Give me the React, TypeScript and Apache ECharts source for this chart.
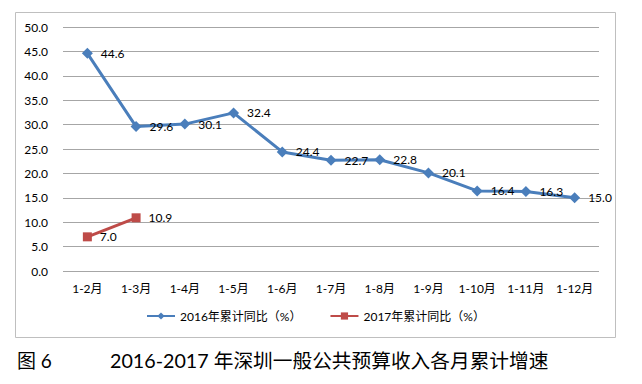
import React, { useEffect, useRef } from "react";
import * as echarts from "echarts";

const categories = ["1-2月", "1-3月", "1-4月", "1-5月", "1-6月", "1-7月", "1-8月", "1-9月", "1-10月", "1-11月", "1-12月"];
const series2016 = [44.6, 29.6, 30.1, 32.4, 24.4, 22.7, 22.8, 20.1, 16.4, 16.3, 15.0];
const series2017 = [7.0, 10.9];
const name2016 = "2016年累计同比（%）";
const name2017 = "2017年累计同比（%）";
const captionLeft = "图 6";
const captionTitle = "2016-2017 年深圳一般公共预算收入各月累计增速";

const FONT = "Lato, 'Noto Sans CJK SC', sans-serif";

export default function App() {
  const ref = useRef<HTMLDivElement>(null);
  useEffect(() => {
    if (!ref.current) return;
    const chart = echarts.init(ref.current, null, { renderer: "svg" });
    const labelCfg = {
      show: true,
      position: "right" as const,
      distance: 8,
      color: "#000",
      fontSize: 12,
      fontFamily: FONT,
      formatter: (p: any) => Number(p.value).toFixed(1),
    };
    chart.setOption({
      animation: false,
      backgroundColor: "#fff",
      textStyle: { fontFamily: FONT },
      grid: { left: 63, right: 43, top: 27, bottom: 113, containLabel: false },
      xAxis: {
        type: "category",
        data: categories,
        boundaryGap: true,
        axisLine: { show: false },
        axisTick: { show: false },
        axisLabel: { color: "#000", fontSize: 12, margin: 11, fontFamily: FONT },
      },
      yAxis: {
        type: "value",
        min: 0,
        max: 50,
        interval: 5,
        axisLine: { show: false },
        axisTick: { show: false },
        axisLabel: { color: "#000", fontSize: 12, margin: 15, fontFamily: FONT, formatter: (v: number) => v.toFixed(1) },
        splitLine: { lineStyle: { color: "#a6a6a6", width: 1 } },
      },
      legend: {
        bottom: 57,
        left: 141,
        itemWidth: 28,
        itemHeight: 9,
        itemGap: 28,
        textStyle: { color: "#000", fontSize: 12, fontFamily: FONT },
        data: [name2016, name2017],
      },
      series: [
        {
          name: name2016,
          type: "line",
          data: series2016,
          symbol: "diamond",
          symbolSize: 11,
          lineStyle: { color: "#4a7ebb", width: 3 },
          itemStyle: { color: "#4a7ebb" },
          label: labelCfg,
        },
        {
          name: name2017,
          type: "line",
          data: series2017,
          symbol: "rect",
          symbolSize: 9,
          lineStyle: { color: "#be4b48", width: 3 },
          itemStyle: { color: "#be4b48" },
          label: labelCfg,
        },
      ],
      graphic: [
        {
          type: "rect",
          shape: { x: 15.5, y: 12.5, width: 600, height: 325 },
          style: { fill: "none", stroke: "#bfbfbf", lineWidth: 1 },
          silent: true,
          z: -1,
        },
        {
          type: "text",
          x: 17,
          y: 360,
          style: { text: captionLeft, fontSize: 19, fill: "#000", fontFamily: FONT, verticalAlign: "middle" },
        },
        {
          type: "text",
          x: 110,
          y: 360,
          style: { text: captionTitle, fontSize: 19.7, fill: "#000", fontFamily: FONT, verticalAlign: "middle" },
        },
      ],
    });
    return () => chart.dispose();
  }, []);
  return <div ref={ref} style={{ position: "fixed", left: 0, top: 0, width: 642, height: 384 }} />;
}
